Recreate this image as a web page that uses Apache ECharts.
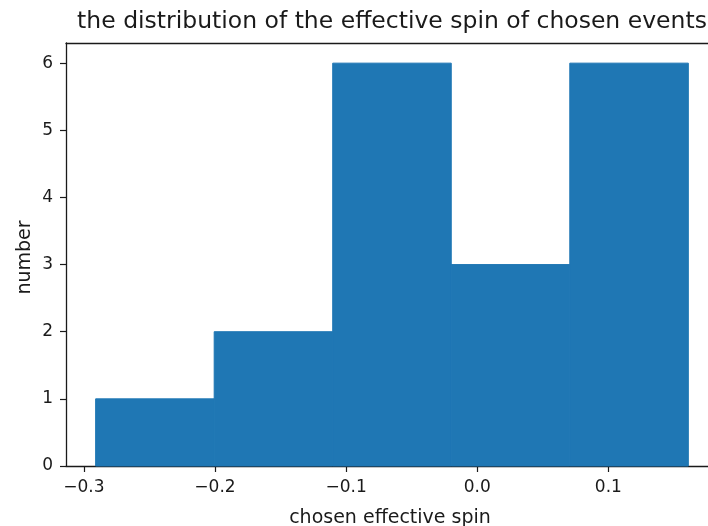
<!DOCTYPE html>
<html>
<head>
<meta charset="utf-8">
<script src="https://cdn.jsdelivr.net/npm/echarts@6/dist/echarts.min.js"></script>
<style>
html,body{margin:0;padding:0;background:#fff;}
#chart{width:708px;height:526px;}
</style>
</head>
<body>
<div id="chart"></div>
<script>
// Histogram data
const binEdges = [-0.291, -0.2006, -0.1102, -0.0198, 0.0706, 0.161];
const counts = [1, 2, 6, 3, 6];
const xTicks = [-0.3, -0.2, -0.1, 0.0, 0.1];
const yTicks = [0, 1, 2, 3, 4, 5, 6];
const titleText = 'the distribution of the effective spin of chosen events';
const xName = 'chosen effective spin';
const yName = 'number';

const bins = counts.map((c, i) => [binEdges[i], binEdges[i + 1], c]);

const FONT = 'DejaVu Sans';
const TXT = '#1a1a1a';
const LINE = '#1a1a1a';
const X_MIN = -0.3136;
const X_MAX = 0.1760; // axis is cut at the canvas edge, as in the reference

const chart = echarts.init(document.getElementById('chart'), null, {renderer: 'canvas'});
chart.setOption({
  animation: false,
  backgroundColor: '#fff',
  grid: {left: 66, top: 43, right: 0, bottom: 60, show: false},
  xAxis: [{
    type: 'value',
    min: X_MIN, max: X_MAX,
    position: 'bottom',
    splitLine: {show: false},
    axisLine: {show: true, onZero: false, lineStyle: {color: LINE, width: 1.3}},
    axisTick: {show: true, length: 6, inside: false, customValues: xTicks, lineStyle: {color: LINE, width: 1.2}},
    axisLabel: {
      customValues: xTicks, margin: 13,
      fontFamily: FONT, fontSize: 17, color: TXT,
      formatter: v => (v < 0 ? '\u2212' : '') + Math.abs(v).toFixed(1)
    }
  }, {
    type: 'value',
    min: X_MIN, max: X_MAX,
    position: 'top',
    splitLine: {show: false},
    axisLine: {show: true, onZero: false, lineStyle: {color: LINE, width: 1.3}},
    axisTick: {show: false},
    axisLabel: {show: false}
  }],
  yAxis: {
    type: 'value',
    min: 0, max: 6.3,
    position: 'left',
    splitLine: {show: false},
    axisLine: {show: true, onZero: false, lineStyle: {color: LINE, width: 1.3}},
    axisTick: {show: true, length: 6, customValues: yTicks, lineStyle: {color: LINE, width: 1.2}},
    axisLabel: {
      customValues: yTicks, margin: 13,
      fontFamily: FONT, fontSize: 17, color: TXT,
      formatter: v => String(Math.round(v))
    }
  },
  graphic: [
    {type: 'text', x: 392, y: 22, style: {text: titleText, fontFamily: FONT, fontSize: 23.5, fill: TXT, textAlign: 'center', textVerticalAlign: 'middle'}},
    {type: 'text', x: 390, y: 518, style: {text: xName, fontFamily: FONT, fontSize: 19, fill: TXT, textAlign: 'center', textVerticalAlign: 'middle'}},
    {type: 'text', x: 25, y: 257.5, rotation: Math.PI / 2, style: {text: yName, fontFamily: FONT, fontSize: 19, fill: TXT, textAlign: 'center', textVerticalAlign: 'middle'}}
  ],
  series: [{
    type: 'custom',
    xAxisIndex: 0,
    data: bins,
    encode: {x: [0, 1], y: 2},
    z: 1,
    renderItem: function (params, api) {
      const p0 = api.coord([api.value(0), api.value(2)]);
      const p1 = api.coord([api.value(1), 0]);
      return {
        type: 'rect',
        shape: {x: p0[0], y: p0[1], width: p1[0] - p0[0], height: p1[1] - p0[1]},
        style: {fill: '#1f77b4', stroke: '#1f77b4', lineWidth: 1}
      };
    }
  }]
});
</script>
</body>
</html>
